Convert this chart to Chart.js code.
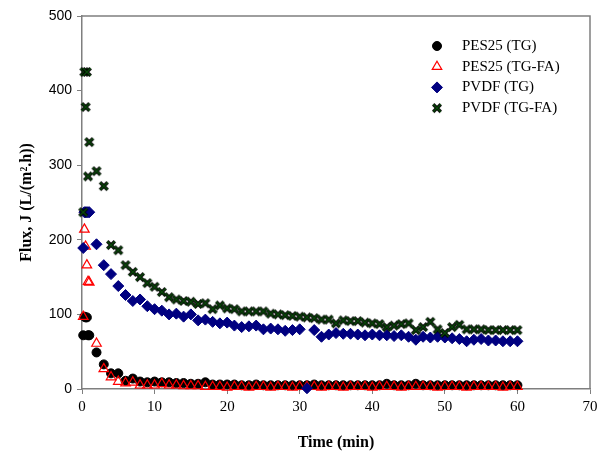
<!DOCTYPE html>
<html>
<head>
<meta charset="utf-8">
<script src="https://cdn.jsdelivr.net/npm/chart.js@4/dist/chart.umd.min.js"></script>
<style>
  html, body { margin: 0; padding: 0; background: #fff; }
  #wrap { width: 605px; height: 456px; position: relative; }
</style>
</head>
<body>
<div id="wrap"><canvas id="c" width="605" height="456"></canvas></div>
<script>
// ---- data ----
const timeMin = [0.17, 0.33, 0.5, 0.67, 0.83, 1, 2, 3, 4, 5, 6, 7, 8, 9, 10,
  11, 12, 13, 14, 15, 16, 17, 18, 19, 20, 21, 22, 23, 24, 25, 26, 27, 28, 29, 30,
  31, 32, 33, 34, 35, 36, 37, 38, 39, 40, 41, 42, 43, 44, 45, 46, 47, 48, 49, 50,
  51, 52, 53, 54, 55, 56, 57, 58, 59, 60];

const pes25TG = [72, 97, 96, 96, 72, 72, 49, 33, 21, 21, 11, 14, 10, 9, 10,
  9, 9, 8, 8, 7, 7, 9, 6, 6, 6, 6, 5, 5, 6, 5, 5, 5, 5, 5, 5,
  5, 6, 5, 5, 5, 5, 5, 5, 5, 5, 5, 7, 5, 5, 5, 7, 5, 5, 5, 5,
  5, 5, 5, 5, 5, 5, 5, 5, 5, 5];

const pes25TGFA = [97, 214, 191, 166, 144, 143, 61, 27, 16, 10, 8, 9, 5, 5, 5,
  7, 5, 5, 4, 4, 4, 3, 3, 3, 2, 3, 3, 2, 3, 3, 2, 3, 3, 2, 3,
  3, 3, 2, 3, 3, 2, 3, 3, 3, 2, 3, 3, 3, 2, 3, 3, 3, 3, 2, 3,
  3, 3, 2, 3, 3, 3, 3, 2, 3, 3];

const pvdfTG = [189, 237, 237, 237, 237, 237, 194, 166, 154, 138, 126, 118, 120, 111, 107,
  105, 100, 101, 97, 100, 92, 93, 90, 88, 89, 85, 83, 84, 85, 80, 81, 80, 78, 79, 80,
  1, 79, 70, 73, 75, 74, 74, 73, 72, 73, 72, 72, 71, 72, 70, 66, 70, 69, 70, 69,
  68, 67, 64, 66, 67, 65, 65, 64, 64, 64];

const pvdfTGFA = [237, 425, 378, 425, 285, 331, 292, 272, 193, 186, 166, 157, 150, 142, 137,
  130, 123, 120, 118, 117, 114, 115, 107, 112, 108, 107, 104, 104, 104, 104, 101, 100, 99, 98, 97,
  96, 95, 93, 93, 88, 92, 91, 91, 89, 88, 87, 83, 85, 87, 88, 79, 83, 90, 80, 75,
  83, 86, 80, 80, 80, 79, 79, 79, 79, 79];

const seriesNames = ['PES25 (TG)', 'PES25 (TG-FA)', 'PVDF (TG)', 'PVDF (TG-FA)'];
const xTicks = [0, 10, 20, 30, 40, 50, 60, 70];
const yTicks = [0, 100, 200, 300, 400, 500];

function pts(vals) { return timeMin.map((t, i) => ({ x: t, y: vals[i] })); }

// X marker: dark green with a black rim
function makeCross() {
  const c = document.createElement('canvas');
  c.width = 12; c.height = 12;
  const g = c.getContext('2d');
  const m = 6, h = 3.8;
  g.lineCap = 'butt';
  g.beginPath();
  g.moveTo(m - h, m - h); g.lineTo(m + h, m + h);
  g.moveTo(m + h, m - h); g.lineTo(m - h, m + h);
  g.strokeStyle = '#000'; g.lineWidth = 3.4; g.stroke();
  g.strokeStyle = '#0a4a0a'; g.lineWidth = 1.4; g.stroke();
  return c;
}
const crossImg = makeCross();

const styles = [
  { pointStyle: 'circle',   radius: 4.5, backgroundColor: '#000000', borderColor: '#000000', borderWidth: 1, order: 4 },
  { pointStyle: 'triangle', radius: 5.5, backgroundColor: 'rgba(0,0,0,0)', borderColor: '#ff0000', borderWidth: 1.2, order: 3 },
  { pointStyle: 'rectRot',  radius: 5.5, backgroundColor: '#000080', borderColor: '#000080', borderWidth: 1, order: 2 },
  { pointStyle: crossImg,   radius: 6,   backgroundColor: '#0a4a0a', borderColor: '#000000', borderWidth: 0, order: 1 }
];
const values = [pes25TG, pes25TGFA, pvdfTG, pvdfTGFA];

const datasets = values.map((v, i) => ({
  label: seriesNames[i],
  data: pts(v),
  showLine: false,
  clip: false,
  pointStyle: styles[i].pointStyle,
  pointRadius: styles[i].radius,
  pointHoverRadius: styles[i].radius,
  pointBackgroundColor: styles[i].backgroundColor,
  pointBorderColor: styles[i].borderColor,
  pointBorderWidth: styles[i].borderWidth,
  order: styles[i].order
}));

const frameAndLegend = {
  id: 'frameAndLegend',
  afterDraw(chart) {
    const ctx = chart.ctx;
    const a = chart.chartArea;
    ctx.save();
    ctx.strokeStyle = '#7f7f7f';
    ctx.lineWidth = 1.5;
    ctx.beginPath();
    ctx.moveTo(a.left, a.top);
    ctx.lineTo(a.right, a.top);
    ctx.lineTo(a.right, a.bottom);
    ctx.stroke();
    // legend
    const x0 = 437, y0 = 46, dy = 20.7;
    ctx.font = '15px "Liberation Serif", "Times New Roman", serif';
    ctx.textBaseline = 'middle';
    ctx.textAlign = 'left';
    seriesNames.forEach((name, i) => {
      const s = styles[i];
      const y = y0 + i * dy;
      ctx.save();
      ctx.fillStyle = s.backgroundColor;
      ctx.strokeStyle = s.borderColor;
      ctx.lineWidth = s.borderWidth;
      Chart.helpers.drawPoint(ctx, { pointStyle: s.pointStyle, radius: s.radius, rotation: 0, borderWidth: s.borderWidth }, x0, y);
      ctx.restore();
      ctx.fillStyle = '#000';
      ctx.fillText(name, 462, y);
    });
    ctx.restore();
  }
};

new Chart(document.getElementById('c'), {
  type: 'scatter',
  data: { datasets },
  plugins: [frameAndLegend],
  options: {
    responsive: false,
    animation: false,
    events: [],
    layout: { padding: { top: 16, right: 15, left: 0, bottom: 0 } },
    plugins: { legend: { display: false }, tooltip: { enabled: false } },
    scales: {
      x: {
        type: 'linear', min: 0, max: 70,
        afterBuildTicks: s => { s.ticks = xTicks.map(v => ({ value: v })); },
        afterFit: s => { s.height = 67; },
        grid: { display: true, drawOnChartArea: false, drawTicks: true, tickLength: 5, color: '#7f7f7f', lineWidth: 1 },
        border: { display: true, color: '#7f7f7f', width: 1.5 },
        ticks: { color: '#000', padding: 4, maxRotation: 0, autoSkip: false,
          font: { family: '"Liberation Serif", "Times New Roman", serif', size: 15 } },
        title: { display: true, text: 'Time (min)', color: '#000',
          font: { family: '"Liberation Serif", "Times New Roman", serif', size: 16, weight: 'bold' },
          padding: { top: 0, bottom: 4 } }
      },
      y: {
        type: 'linear', min: 0, max: 500,
        afterBuildTicks: s => { s.ticks = yTicks.map(v => ({ value: v })); },
        afterFit: s => { s.width = 82; },
        grid: { display: true, drawOnChartArea: false, drawTicks: true, tickLength: 5, color: '#7f7f7f', lineWidth: 1 },
        border: { display: true, color: '#7f7f7f', width: 1.5 },
        ticks: { color: '#000', padding: 5,
          font: { family: '"Liberation Sans", Arial, sans-serif', size: 14 } },
        title: { display: true, text: 'Flux, J (L/(m².h))', color: '#000',
          font: { family: '"Liberation Serif", "Times New Roman", serif', size: 16, weight: 'bold' },
          padding: { top: 17, bottom: 0 } }
      }
    }
  }
});
</script>
</body>
</html>
